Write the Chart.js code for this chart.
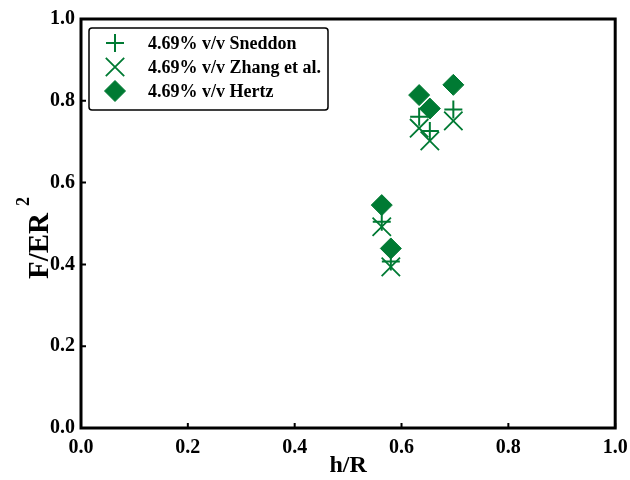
<!DOCTYPE html>
<html>
<head>
<meta charset="utf-8">
<script src="https://cdn.jsdelivr.net/npm/chart.js@4/dist/chart.umd.min.js"></script>
<style>
  html, body { margin: 0; padding: 0; background: #fff; }
  #wrap { width: 630px; height: 480px; }
</style>
</head>
<body>
<div id="wrap"><canvas id="c" width="630" height="480"></canvas></div>
<script>
// h/R values shared by all three models
const hR = [0.563, 0.580, 0.633, 0.653, 0.697];
// F/ER^2 for each model
const sneddon = [0.504, 0.407, 0.761, 0.726, 0.779];
const zhang   = [0.492, 0.394, 0.733, 0.702, 0.751];
const hertz   = [0.545, 0.439, 0.814, 0.781, 0.839];
const seriesLabels = ['4.69% v/v Sneddon', '4.69% v/v Zhang et al.', '4.69% v/v Hertz'];
const tickValues = [0.0, 0.2, 0.4, 0.6, 0.8, 1.0];

const GREEN = '#007a33';
const FONT = "'Liberation Serif', 'Times New Roman', serif";

const pts = (ys) => hR.map((x, i) => ({ x: x, y: ys[i] }));

const datasets = [
  { label: seriesLabels[0], data: pts(sneddon), pointStyle: 'cross', pointRadius: 9,
    borderColor: GREEN, backgroundColor: GREEN, pointBorderWidth: 2, showLine: false },
  { label: seriesLabels[1], data: pts(zhang), pointStyle: 'crossRot', pointRadius: 13,
    borderColor: GREEN, backgroundColor: GREEN, pointBorderWidth: 1.8, showLine: false },
  { label: seriesLabels[2], data: pts(hertz), pointStyle: 'rectRot', pointRadius: 10.5,
    borderColor: GREEN, backgroundColor: GREEN, pointBorderWidth: 1, showLine: false }
];

// Frame, inward ticks, y title with superscript and boxed legend
const decorations = {
  id: 'decorations',
  afterDraw(chart) {
    const ctx = chart.ctx;
    const a = chart.chartArea;
    const xs = chart.scales.x, ys = chart.scales.y;
    ctx.save();
    ctx.strokeStyle = '#000';
    ctx.lineWidth = 3;
    ctx.strokeRect(a.left, a.top, a.right - a.left, a.bottom - a.top);

    ctx.lineWidth = 2;
    ctx.beginPath();
    tickValues.forEach(v => {
      const px = xs.getPixelForValue(v);
      ctx.moveTo(px, a.bottom);
      ctx.lineTo(px, a.bottom - 5);
      const py = ys.getPixelForValue(v);
      ctx.moveTo(a.left, py);
      ctx.lineTo(a.left + 5, py);
    });
    ctx.stroke();

    // y-axis title: F/ER with superscript 2
    ctx.fillStyle = '#000';
    ctx.translate(48, 279);
    ctx.rotate(-Math.PI / 2);
    ctx.textAlign = 'left';
    ctx.textBaseline = 'alphabetic';
    ctx.font = 'bold 29px ' + FONT;
    const main = 'F/ER';
    ctx.fillText(main, 0, 0);
    const w = ctx.measureText(main).width;
    ctx.font = 'bold 18px ' + FONT;
    ctx.fillText('2', w + 7, -19);
    ctx.restore();

    // Legend box
    ctx.save();
    const bx = 89, by = 28, bw = 239, bh = 82;
    ctx.strokeStyle = '#000';
    ctx.lineWidth = 1.5;
    ctx.beginPath();
    ctx.roundRect(bx, by, bw, bh, 3);
    ctx.fillStyle = '#fff';
    ctx.fill();
    ctx.stroke();
    ctx.font = 'bold 18px ' + FONT;
    ctx.textAlign = 'left';
    ctx.textBaseline = 'middle';
    chart.data.datasets.forEach((ds, i) => {
      const cy = 43 + i * 24;
      ctx.fillStyle = ds.backgroundColor;
      ctx.strokeStyle = ds.borderColor;
      ctx.lineWidth = ds.pointBorderWidth;
      Chart.helpers.drawPoint(ctx, {
        pointStyle: ds.pointStyle, radius: ds.pointRadius, rotation: 0,
        borderWidth: ds.pointBorderWidth
      }, 115, cy);
      ctx.fillStyle = '#000';
      ctx.fillText(ds.label, 148, cy + 1);
    });
    ctx.restore();
  }
};

new Chart(document.getElementById('c'), {
  type: 'scatter',
  data: { datasets: datasets },
  options: {
    responsive: false,
    animation: false,
    devicePixelRatio: 1,
    layout: { padding: { left: 0, top: 19, right: 12, bottom: 0 } },
    plugins: { legend: { display: false }, tooltip: { enabled: false } },
    scales: {
      x: {
        type: 'linear', min: 0, max: 1,
        afterFit(s) { s.height = 52; s.paddingLeft = 0; s.paddingRight = 0; },
        afterBuildTicks(s) { s.ticks = tickValues.map(v => ({ value: v })); },
        grid: { display: false, drawTicks: false },
        border: { display: false },
        ticks: {
          padding: 8, color: '#000', maxRotation: 0,
          font: { family: FONT, size: 20, weight: 'bold' },
          callback: v => v.toFixed(1)
        },
        title: {
          display: true, text: 'h/R', color: '#000', padding: { top: 0, bottom: 0 },
          font: { family: FONT, size: 24, weight: 'bold' }
        }
      },
      y: {
        type: 'linear', min: 0, max: 1,
        afterFit(s) { s.width = 81; s.paddingTop = 0; s.paddingBottom = 0; },
        afterBuildTicks(s) { s.ticks = tickValues.map(v => ({ value: v })); },
        grid: { display: false, drawTicks: false },
        border: { display: false },
        ticks: {
          padding: 6, color: '#000',
          font: { family: FONT, size: 20, weight: 'bold' },
          callback: v => v.toFixed(1)
        }
      }
    }
  },
  plugins: [decorations]
});
</script>
</body>
</html>
